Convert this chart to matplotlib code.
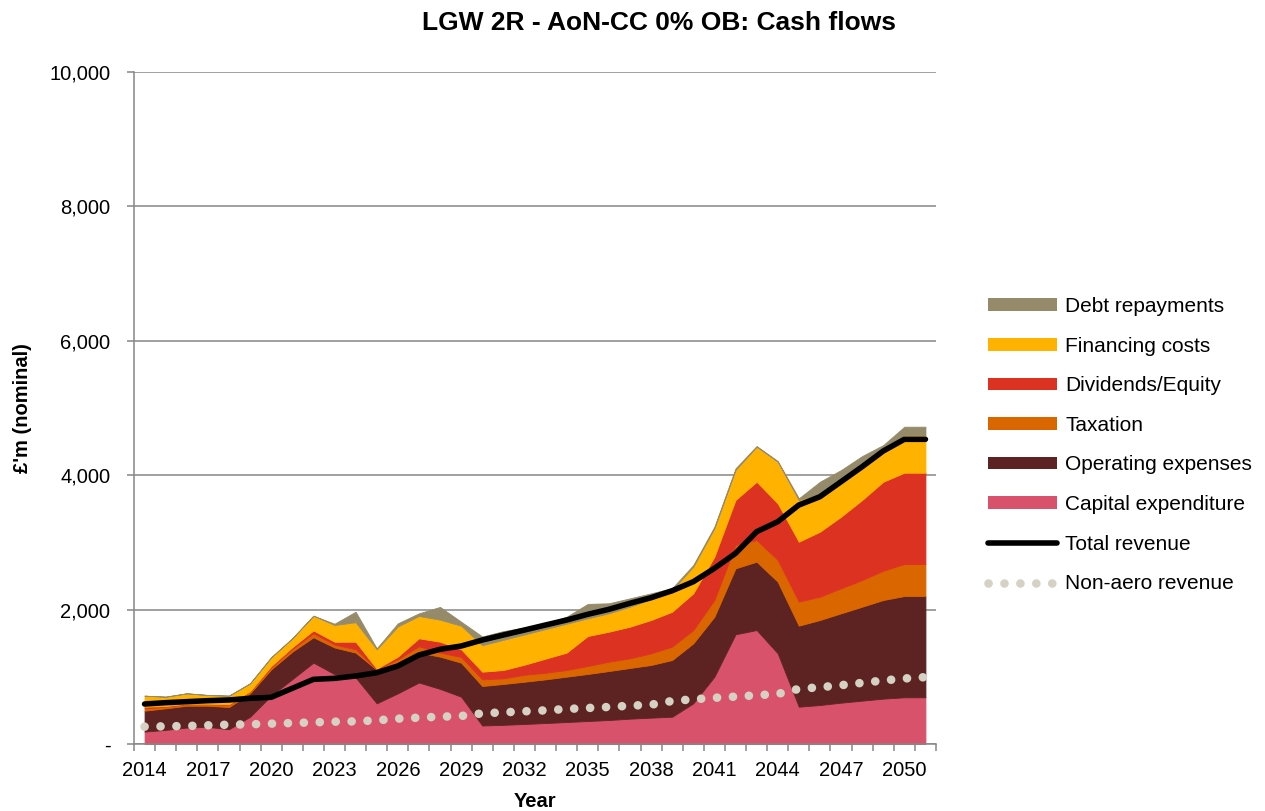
import matplotlib
matplotlib.use('Agg')
import matplotlib.pyplot as plt
from matplotlib.patches import Patch
from matplotlib.lines import Line2D
import numpy as np

plt.rcParams['font.family'] = ['Liberation Sans', 'DejaVu Sans']

years = list(range(2014, 2052))

capex = [185, 210, 245, 255, 220, 406, 720, 965, 1210, 1040, 990, 605, 754, 915, 820, 704,
         275, 285, 298, 312, 327, 342, 357, 377, 392, 406, 605, 1002, 1632, 1696, 1349, 555,
         580, 615, 645, 675, 695, 695]
opex = [311, 321, 325, 315, 330, 348, 391, 409, 378, 396, 370, 501, 446, 445, 480, 506,
        588, 608, 629, 650, 675, 700, 729, 754, 784, 844, 893, 892, 982, 1017, 1066, 1206,
        1265, 1330, 1398, 1468, 1507, 1507]
tax = [35, 24, 20, 25, 30, 24, 29, 40, 59, 44, 50, 5, 60, 95, 60, 85, 99, 84, 103, 98, 99,
       119, 139, 144, 173, 200, 198, 249, 347, 322, 323, 357, 347, 372, 397, 436, 476, 476]
dividends = [24, 10, 10, 5, 10, 7, 20, 26, 43, 42, 112, 9, 40, 118, 162, 115, 114, 124, 150,
             210, 259, 446, 446, 471, 496, 519, 546, 644, 670, 868, 843, 892, 967, 1065, 1191,
             1324, 1359, 1359]
financing = [164, 139, 154, 129, 129, 118, 130, 133, 219, 249, 290, 289, 450, 332, 328, 350,
             394, 449, 450, 440, 430, 263, 274, 297, 308, 321, 397, 423, 446, 521, 620, 621,
             571, 546, 520, 472, 561, 561]
debt = [0, 0, 0, 0, 0, 0, 0, 0, 0, 19, 157, 15, 46, 40, 190, 60, 130, 130, 105, 86, 104, 215,
        149, 125, 89, 30, 25, 24, 25, 10, 10, 25, 173, 149, 134, 74, 124, 124]
total_revenue = [595, 615, 630, 645, 655, 680, 695, 829, 962, 977, 1012, 1061, 1161, 1324,
                 1409, 1458, 1547, 1622, 1696, 1771, 1845, 1930, 2004, 2094, 2177, 2281, 2415,
                 2614, 2837, 3159, 3308, 3556, 3680, 3903, 4126, 4360, 4534, 4534]
non_aero = [258, 263, 268, 278, 288, 293, 303, 312, 322, 332, 337, 352, 377, 392, 406, 417,
            456, 471, 486, 501, 521, 536, 551, 570, 585, 640, 665, 688, 705, 725, 745, 820,
            845, 875, 910, 945, 975, 995]

area_labels = ['Capital expenditure', 'Operating expenses', 'Taxation', 'Dividends/Equity',
               'Financing costs', 'Debt repayments']
area_colors = ['#D9526B', '#5C2322', '#DA6600', '#DC3222', '#FFB300', '#958B6B']
y_ticks = [0, 2000, 4000, 6000, 8000, 10000]

x = np.arange(len(years))

fig = plt.figure(figsize=(12.65, 8.11), dpi=100)
ax = fig.add_axes([134/1265, 1-744/811, (936-134)/1265, (744-72)/811])

polys = ax.stackplot(x, capex, opex, tax, dividends, financing, debt, colors=area_colors,
                     zorder=2)
for p, c in zip(polys, area_colors):
    p.set_edgecolor(c)
    p.set_linewidth(0.6)

dot_style = (0, (0.01, 1.84))
ax.plot(x, non_aero, color='#D5D1C3', lw=6.2, linestyle=dot_style,
        dash_capstyle='round', zorder=3)
ax.plot(x, total_revenue, color='black', lw=4.0, solid_capstyle='round',
        solid_joinstyle='round', zorder=4)

grey = '#868686'
ax.set_xlim(-0.5, len(years) - 0.5)
ax.set_ylim(0, 10000)
ax.set_yticks(y_ticks)
ax.set_yticklabels(['-' if v == 0 else f'{v:,.0f}' for v in y_ticks], fontsize=14.5)
ax.yaxis.grid(True, color=grey, lw=1.1)
ax.set_axisbelow(True)

ax.set_xticks(x[::3])
ax.set_xticklabels([str(y) for y in years[::3]], fontsize=14.5)
ax.set_xticks(np.arange(-0.5, len(years), 1.0), minor=True)
ax.tick_params(axis='x', which='major', length=0, pad=12)
ax.tick_params(axis='x', which='minor', length=5, color=grey, width=1.1)
ax.tick_params(axis='y', length=5, color=grey, width=1.1, pad=12)

for s in ['top', 'right']:
    ax.spines[s].set_visible(False)
for s in ['left', 'bottom']:
    ax.spines[s].set_color(grey)
    ax.spines[s].set_linewidth(1.1)
    ax.spines[s].set_zorder(5)

ax.set_ylabel("£'m (nominal)", fontsize=14.5, fontweight='bold')
ax.yaxis.set_label_coords(-0.127, 0.5)
ax.set_xlabel('Year', fontsize=14.5, fontweight='bold')
ax.xaxis.set_label_coords(0.5, -0.072)

fig.text(659/1265, 1-23/811, 'LGW 2R - AoN-CC 0% OB: Cash flows', fontsize=19,
         fontweight='bold', ha='center', va='center')

handles = [Patch(facecolor=c, edgecolor='none') for c in area_colors[::-1]]
labels = area_labels[::-1]
handles += [Line2D([], [], color='black', lw=4.0, solid_capstyle='round'),
            Line2D([], [], color='#D5D1C3', lw=6.2, linestyle=dot_style,
                   dash_capstyle='round')]
labels += ['Total revenue', 'Non-aero revenue']
fig.legend(handles, labels, loc='upper left', bbox_to_anchor=(988/1265, 1-297/811),
           frameon=False, fontsize=15, handlelength=3.3, handleheight=0.55,
           handletextpad=0.4, labelspacing=0.99, borderpad=0, borderaxespad=0)

fig.savefig('out.png', dpi=100)
